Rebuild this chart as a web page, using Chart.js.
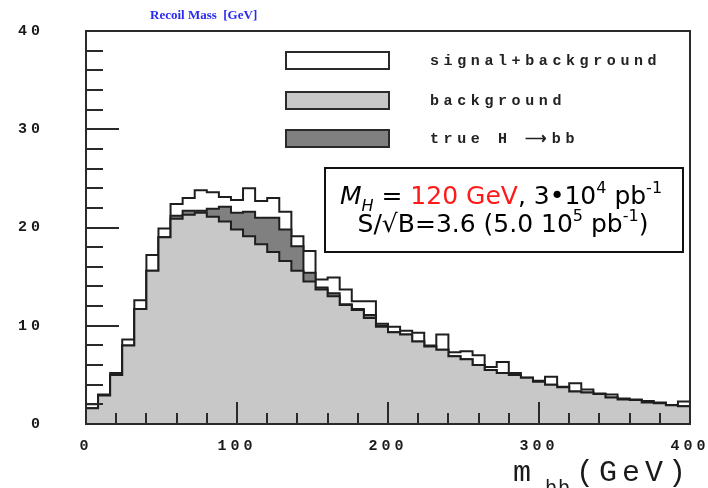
<!DOCTYPE html>
<html>
<head>
<meta charset="UTF-8">
<title>Recoil Mass</title>
<script src="https://cdn.jsdelivr.net/npm/chart.js"></script>
<style>
  body { margin: 0; background: #fff; }
  canvas { display: block; }
</style>
</head>
<body>
<canvas id="histo" width="708" height="488"></canvas>
<script>
// m_bb histogram, 50 bins of 8 GeV from 0 to 400
const binWidth = 8;
const nBins = 50;
const binEdges = Array.from({ length: nBins + 1 }, (_, i) => i * binWidth);

// signal+background (white)
const sigPlusBkg = [2.0, 3.0, 5.2, 8.6, 12.6, 17.2, 19.9, 22.4, 23.0, 23.8,
                    23.6, 23.1, 22.8, 24.0, 22.7, 23.0, 21.6, 19.1, 17.6, 14.7,
                    14.9, 13.7, 12.5, 12.5, 10.2, 9.9, 9.5, 9.3, 8.0, 9.1,
                    7.3, 7.4, 7.0, 5.8, 6.3, 5.2, 4.7, 4.4, 4.8, 3.8,
                    4.15, 3.5, 3.1, 3.0, 2.6, 2.5, 2.35, 2.2, 1.9, 2.3];
// background (light grey)
const background = [1.6, 2.9, 5.0, 8.0, 11.7, 15.6, 19.0, 20.9, 21.3, 21.5,
                    21.1, 20.6, 19.8, 19.1, 18.3, 17.5, 16.6, 15.6, 14.5, 13.7,
                    13.0, 12.1, 11.6, 10.8, 9.9, 9.35, 9.1, 8.4, 7.9, 7.55,
                    6.9, 6.6, 6.0, 5.5, 5.2, 5.0, 4.7, 4.3, 4.0, 3.75,
                    3.3, 3.2, 3.05, 2.7, 2.5, 2.45, 2.2, 2.1, 1.9, 1.8];
// true H -> bb, stacked on background (dark grey)
const trueHbb = [0, 0, 0, 0, 0, 0, 0, 0.3, 0.4, 0.2,
                 0.8, 1.5, 1.7, 2.5, 2.7, 3.5, 3.2, 2.5, 0.9, 0.2,
                 0.3, 0.1, 0.1, 0.3, 0.1, 0, 0, 0, 0, 0,
                 0, 0, 0, 0, 0, 0, 0, 0, 0, 0,
                 0, 0, 0, 0, 0, 0, 0, 0, 0, 0];

const xTicks = [0, 100, 200, 300, 400];
const yTicks = [0, 10, 20, 30, 40];

function steps(vals) {
  const pts = vals.map((v, i) => ({ x: binEdges[i], y: v }));
  pts.push({ x: binEdges[nBins], y: vals[nBins - 1] });
  return pts;
}
const bkgPlusH = background.map((v, i) => v + trueHbb[i]);

function histo(label, vals, fill, order) {
  return {
    label, data: steps(vals), stepped: true, order,
    borderColor: '#1e1e1e', borderWidth: 2, backgroundColor: fill,
    fill: 'origin', pointRadius: 0, tension: 0
  };
}

function richText(ctx, parts, cx, y) {
  let w = 0;
  parts.forEach(p => { ctx.font = p.font; w += ctx.measureText(p.t).width; });
  let x = cx - w / 2;
  ctx.textAlign = 'left';
  ctx.textBaseline = 'alphabetic';
  parts.forEach(p => {
    ctx.font = p.font;
    ctx.fillStyle = p.color || '#000';
    ctx.fillText(p.t, x, y + (p.dy || 0));
    x += ctx.measureText(p.t).width;
  });
}

const decor = {
  id: 'decor',
  beforeDraw(chart) { chart.ctx.letterSpacing = '4px'; },
  beforeDatasetsDraw(chart) { chart.ctx.letterSpacing = '0px'; },
  afterDatasetsDraw(chart) {
    const { ctx, chartArea: a, scales: { x, y } } = chart;
    ctx.save();
    ctx.strokeStyle = '#2a2a2a';
    ctx.lineWidth = 2;
    // inward ticks
    ctx.beginPath();
    for (let v = 0; v <= 40; v += 2) {
      const py = Math.round(y.getPixelForValue(v));
      ctx.moveTo(a.left, py);
      ctx.lineTo(a.left + (v % 10 === 0 ? 33 : 17), py);
    }
    for (let v = 0; v <= 400; v += 20) {
      const px = Math.round(x.getPixelForValue(v));
      ctx.moveTo(px, a.bottom);
      ctx.lineTo(px, a.bottom - (v % 100 === 0 ? 22 : 11));
    }
    ctx.stroke();
    ctx.strokeRect(a.left, a.top, a.right - a.left, a.bottom - a.top);

    // legend
    const boxes = [
      ['#ffffff', 'signal+background', 52],
      ['#c8c8c8', 'background', 92],
      ['#808080', 'true H \u27F6bb', 130]
    ];
    boxes.forEach(([c, t, top]) => {
      ctx.fillStyle = c;
      ctx.fillRect(286, top, 103, 17);
      ctx.strokeRect(286, top, 103, 17);
      ctx.fillStyle = '#222';
      ctx.font = 'bold 15px "Liberation Mono"';
      ctx.letterSpacing = '4.6px';
      ctx.textAlign = 'left';
      ctx.textBaseline = 'middle';
      ctx.fillText(t, 430, top + 9);
    });
    ctx.letterSpacing = '0px';

    // annotation box
    ctx.fillStyle = '#fff';
    ctx.fillRect(325, 168, 358, 84);
    ctx.strokeStyle = '#111';
    ctx.strokeRect(325, 168, 358, 84);
    const f = '25px "DejaVu Sans"', fi = 'italic 25px "DejaVu Sans"';
    const fs = '16px "DejaVu Sans"', fsi = 'italic 16px "DejaVu Sans"';
    richText(ctx, [
      { t: 'M', font: fi }, { t: 'H', font: fsi, dy: 7 },
      { t: ' = ', font: f }, { t: '120 GeV', font: f, color: '#ff1a1a' },
      { t: ', 3\u202210', font: f }, { t: '4', font: fs, dy: -11 },
      { t: ' pb', font: f }, { t: '-1', font: fs, dy: -11 }
    ], 501, 204);
    richText(ctx, [
      { t: 'S/\u221AB=3.6 (5.0 10', font: f }, { t: '5', font: fs, dy: -11 },
      { t: ' pb', font: f }, { t: '-1', font: fs, dy: -11 }, { t: ')', font: f }
    ], 503, 232);
    ctx.restore();
  },
  afterDraw(chart) {
    const ctx = chart.ctx;
    ctx.save();
    ctx.textAlign = 'left';
    ctx.textBaseline = 'alphabetic';
    ctx.fillStyle = '#2b2bf0';
    ctx.font = 'bold 13px "Liberation Serif"';
    ctx.fillText('Recoil Mass  [GeV]', 150, 19);
    ctx.fillStyle = '#1a1a1a';
    ctx.font = '30px "Liberation Mono"';
    ctx.letterSpacing = '5px';
    ctx.fillText('m', 513, 481);
    ctx.font = '20px "Liberation Mono"';
    ctx.letterSpacing = '1px';
    ctx.fillText('bb', 545, 494);
    ctx.font = '30px "Liberation Mono"';
    ctx.letterSpacing = '5px';
    ctx.fillText('(GeV)', 576, 481);
    ctx.restore();
  }
};

new Chart(document.getElementById('histo'), {
  type: 'line',
  data: {
    datasets: [
      histo('background', background, '#c8c8c8', 1),
      histo('true H \u2192 bb', bkgPlusH, '#808080', 2),
      histo('signal+background', sigPlusBkg, '#ffffff', 3)
    ]
  },
  options: {
    responsive: false,
    animation: false,
    layout: { padding: { top: 31, right: 18, left: 0, bottom: 0 } },
    plugins: { legend: { display: false }, tooltip: { enabled: false } },
    scales: {
      x: {
        type: 'linear', min: 0, max: 400,
        afterFit: s => { s.height = 64; s.paddingLeft = 0; s.paddingRight = 0; },
        afterBuildTicks: s => { s.ticks = xTicks.map(v => ({ value: v })); },
        grid: { display: false, drawTicks: false, tickLength: 0 },
        border: { display: false },
        ticks: { padding: 13, maxRotation: 0, autoSkip: false, color: '#1a1a1a',
                 font: { family: 'Liberation Mono', size: 15, weight: 'bold' } }
      },
      y: {
        min: 0, max: 40,
        afterFit: s => { s.width = 86; s.paddingTop = 0; s.paddingBottom = 0; },
        afterBuildTicks: s => { s.ticks = yTicks.map(v => ({ value: v })); },
        grid: { display: false, drawTicks: false, tickLength: 0 },
        border: { display: false },
        ticks: { padding: 42, color: '#1a1a1a',
                 font: { family: 'Liberation Mono', size: 15, weight: 'bold' } }
      }
    }
  },
  plugins: [decor]
});
</script>
</body>
</html>
